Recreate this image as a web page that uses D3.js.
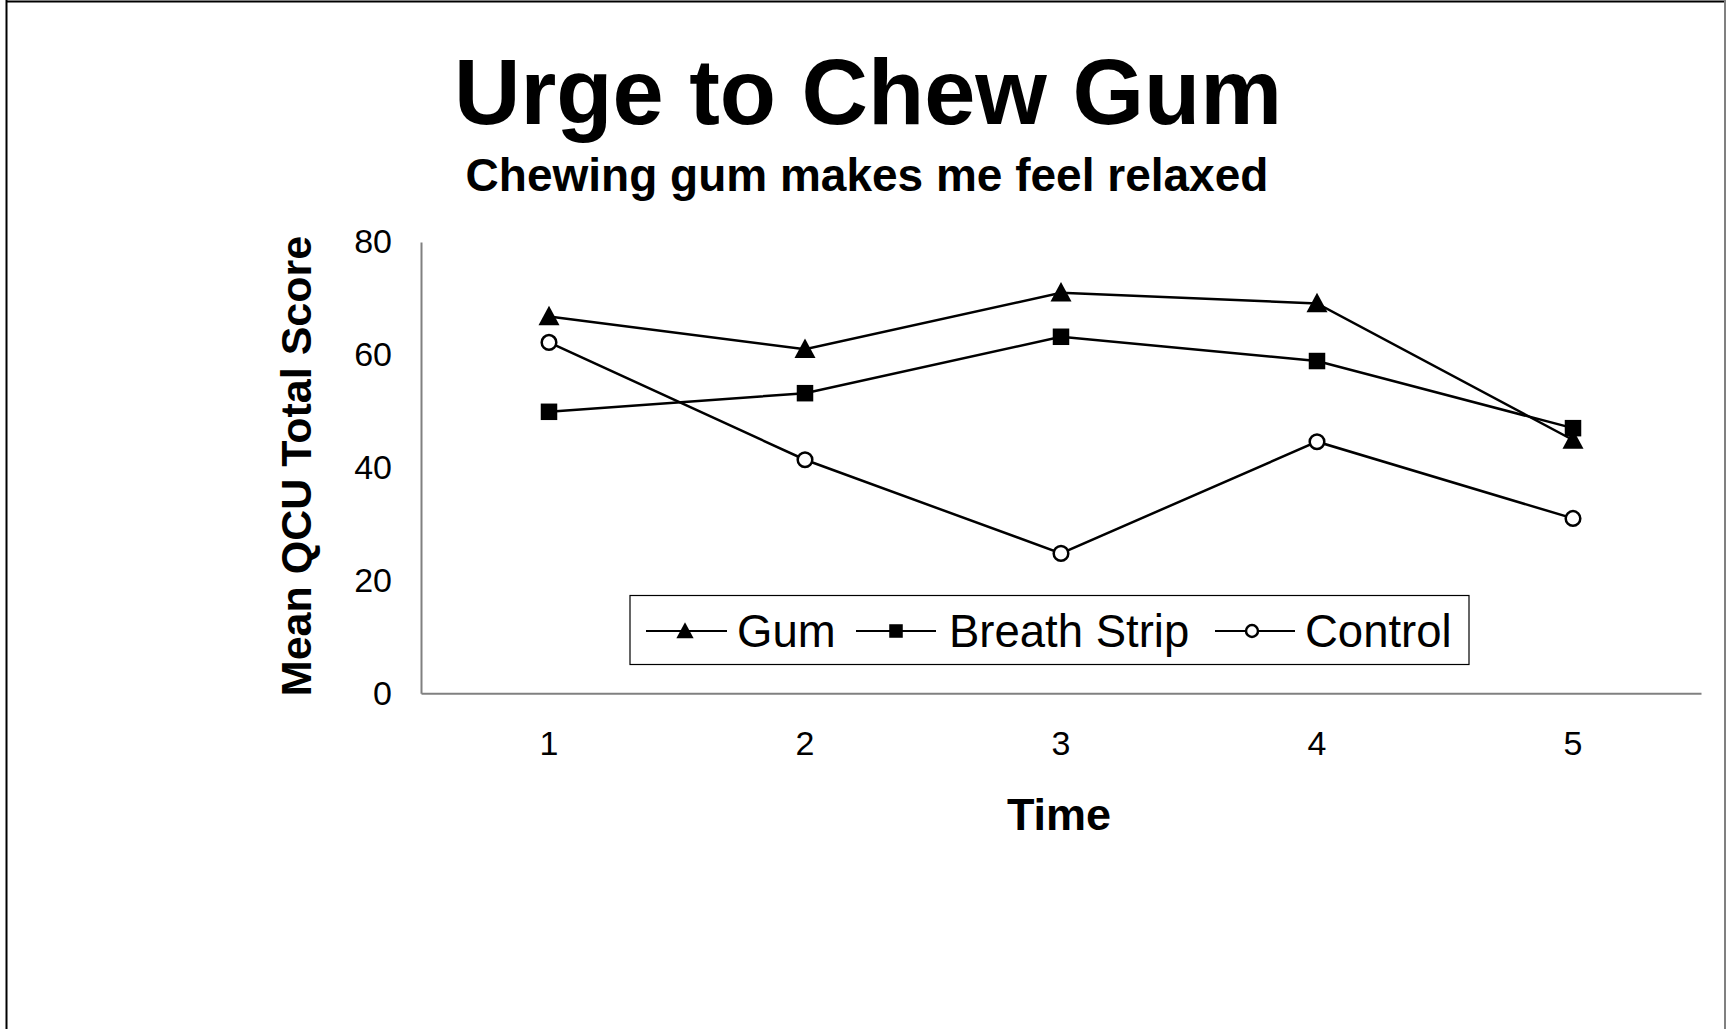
<!DOCTYPE html>
<html>
<head>
<meta charset="utf-8">
<script src="https://cdn.jsdelivr.net/npm/d3@7"></script>
<style>
  html, body { margin: 0; padding: 0; background: #fff; }
  svg { display: block; }
  text { font-family: "Liberation Sans", Arial, sans-serif; fill: #000; }
</style>
</head>
<body>
<svg id="chart" width="1726" height="1029"></svg>
<script>
const titleText = "Urge to Chew Gum";
const subtitleText = "Chewing gum makes me feel relaxed";
const xAxisTitle = "Time";
const yAxisTitle = "Mean QCU Total Score";
const timePoints = ["1", "2", "3", "4", "5"];
const yTicks = [0, 20, 40, 60, 80];
const seriesNames = ["Gum", "Breath Strip", "Control"];
const gumValues = [66.8, 61.0, 71.0, 69.1, 44.9];
const breathStripValues = [49.9, 53.2, 63.2, 58.9, 47.0];
const controlValues = [62.2, 41.4, 24.8, 44.6, 31.0];

const series = [
  { name: seriesNames[0], values: gumValues, marker: "triangle" },
  { name: seriesNames[1], values: breathStripValues, marker: "square" },
  { name: seriesNames[2], values: controlValues, marker: "circle" }
];

const svg = d3.select("#chart");

// Outer frame
svg.append("line").attr("x1", 6.5).attr("y1", 0).attr("x2", 6.5).attr("y2", 1029).attr("stroke", "#000").attr("stroke-width", 2);
svg.append("line").attr("x1", 6).attr("y1", 1.5).attr("x2", 1726).attr("y2", 1.5).attr("stroke", "#000").attr("stroke-width", 2);
svg.append("line").attr("x1", 1725).attr("y1", 0).attr("x2", 1725).attr("y2", 1029).attr("stroke", "#808080").attr("stroke-width", 2);

const plot = { left: 421, right: 1701, top: 242, bottom: 693.3 };

const x = d3.scaleBand().domain(timePoints).range([plot.left, plot.right]);
const y = d3.scaleLinear().domain([0, 80]).range([plot.bottom, plot.top]);

// Titles
svg.append("text").attr("x", 868).attr("y", 124).attr("text-anchor", "middle")
  .attr("font-size", 92).attr("font-weight", "bold").text(titleText);
svg.append("text").attr("x", 867).attr("y", 191).attr("text-anchor", "middle")
  .attr("font-size", 46).attr("font-weight", "bold").text(subtitleText);

// Y axis
const yAxis = svg.append("g").attr("transform", `translate(${plot.left},0)`)
  .call(d3.axisLeft(y).tickValues(yTicks).tickSize(0).tickPadding(29).tickFormat(d3.format("d")));
yAxis.select(".domain").attr("stroke", "#808080").attr("stroke-width", 2);
yAxis.selectAll("text").attr("font-size", 34).attr("font-family", "Liberation Sans, Arial, sans-serif").attr("fill", "#000");

// X axis
const xAxis = svg.append("g").attr("transform", `translate(0,${plot.bottom})`)
  .call(d3.axisBottom(x).tickSize(0).tickPadding(38));
xAxis.select(".domain").attr("stroke", "#808080").attr("stroke-width", 2);
xAxis.selectAll("text").attr("font-size", 34).attr("font-family", "Liberation Sans, Arial, sans-serif").attr("fill", "#000");

// Axis titles
svg.append("text").attr("x", 1059).attr("y", 830).attr("text-anchor", "middle")
  .attr("font-size", 45).attr("font-weight", "bold").text(xAxisTitle);
svg.append("text").attr("transform", "translate(311,466) rotate(-90)").attr("text-anchor", "middle")
  .attr("font-size", 43).attr("font-weight", "bold").text(yAxisTitle);

// Marker drawing
function drawMarker(g, type, cx, cy, scale) {
  if (type === "triangle") {
    const w = 21 * scale, h = 19.5 * scale;
    g.append("path")
      .attr("d", `M${cx},${cy - h * 0.55} L${cx + w / 2},${cy + h * 0.45} L${cx - w / 2},${cy + h * 0.45} Z`)
      .attr("fill", "#000");
  } else if (type === "square") {
    const s = 16.5 * scale;
    g.append("rect").attr("x", cx - s / 2).attr("y", cy - s / 2).attr("width", s).attr("height", s).attr("fill", "#000");
  } else {
    g.append("circle").attr("cx", cx).attr("cy", cy).attr("r", 7.3 * scale)
      .attr("fill", "#fff").attr("stroke", "#000").attr("stroke-width", 2.5);
  }
}

const line = d3.line()
  .x((d, i) => x(timePoints[i]) + x.bandwidth() / 2)
  .y(d => y(d));

const plotG = svg.append("g");
series.forEach(s => {
  plotG.append("path").attr("d", line(s.values)).attr("fill", "none")
    .attr("stroke", "#000").attr("stroke-width", 2.5);
});
series.forEach(s => {
  s.values.forEach((v, i) => {
    drawMarker(plotG, s.marker, x(timePoints[i]) + x.bandwidth() / 2, y(v), 1);
  });
});

// Legend
const legend = svg.append("g");
legend.append("rect").attr("x", 630).attr("y", 595.5).attr("width", 839).attr("height", 69)
  .attr("fill", "#fff").attr("stroke", "#000").attr("stroke-width", 1.2);
const legendItems = [
  { lx1: 646, lx2: 727, mx: 685, tx: 737 },
  { lx1: 856, lx2: 936, mx: 896, tx: 949 },
  { lx1: 1215, lx2: 1295, mx: 1252, tx: 1305 }
];
const legendY = 631;
series.forEach((s, i) => {
  const it = legendItems[i];
  legend.append("line").attr("x1", it.lx1).attr("x2", it.lx2).attr("y1", legendY).attr("y2", legendY)
    .attr("stroke", "#000").attr("stroke-width", 2);
  drawMarker(legend, s.marker, it.mx, legendY, 0.82);
  legend.append("text").attr("x", it.tx).attr("y", legendY + 16).attr("font-size", 45.5).text(s.name);
});
</script>
</body>
</html>
